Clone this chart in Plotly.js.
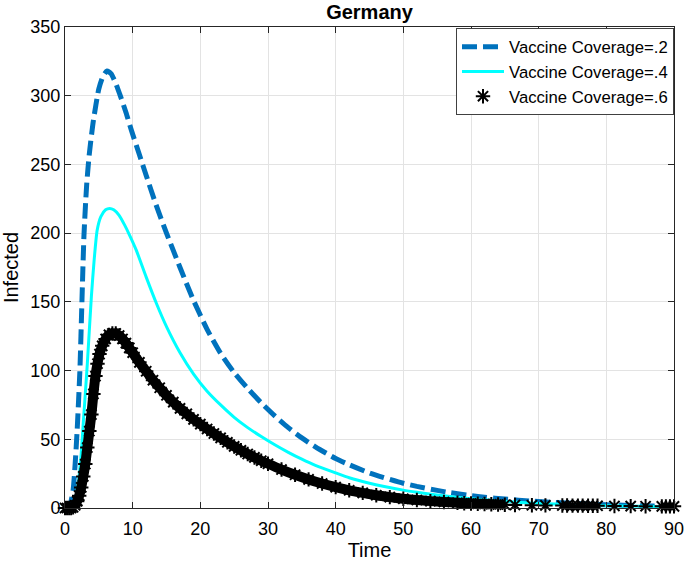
<!DOCTYPE html>
<html>
<head>
<meta charset="utf-8">
<script src="https://cdn.plot.ly/plotly-3.0.1.min.js"></script>
<style>html,body{margin:0;padding:0;background:#fff;}#chart{width:685px;height:561px;}</style>
</head>
<body>
<div id="chart"></div>
<script>
// Vaccine coverage = .2 (dashed blue)
const t1 = [0, 0.5, 0.8, 1.2, 1.5, 1.8, 2.2, 2.5, 2.8, 3.2, 3.6, 4.2, 5.0, 5.6, 6.2, 6.8, 7.5, 8.1, 9.0, 9.8, 11.0, 12.0, 13.5, 15.0, 17.0, 19.0, 21.0, 23.0, 25.0, 27.0, 29.0, 31.0, 33.0, 35.0, 37.0, 40.0, 42.0, 45.0, 47.0, 50.0, 52.0, 55.0, 57.0, 60.0, 62.0, 65.0, 69.0, 72.0, 76.0, 80.0, 85.0, 90.0];
const v1 = [0, 0, 3, 13, 32, 57, 100, 150, 198, 235, 258, 282, 305, 314, 318, 316, 309, 301, 288, 275, 257, 242, 220, 200, 175, 151, 130, 112.5, 98.5, 87, 76.5, 67, 58.5, 51, 44.5, 36, 31.5, 25.5, 22.3, 18, 15.7, 12.8, 11.1, 9.0, 7.9, 6.5, 5.0, 4.1, 3.1, 2.4, 1.7, 1.1];

// Vaccine coverage = .4 (cyan)
const t2 = [0, 1.0, 1.5, 2.0, 2.4, 2.7, 3.0, 3.3, 3.9, 4.3, 4.75, 5.3, 6.0, 6.6, 7.2, 8.0, 8.8, 9.5, 10.5, 12.0, 13.5, 15.0, 17.0, 19.0, 21.0, 23.0, 25.0, 27.0, 29.0, 31.0, 33.0, 35.0, 37.0, 40.0, 42.0, 45.0, 47.0, 50.0, 52.0, 55.0, 60.0, 65.0, 70.0, 75.0, 80.0, 85.0, 90.0];
const v2 = [0, 1, 6, 20, 40, 62, 83, 105, 154, 180, 202, 212, 217, 218, 217, 213, 206, 199, 188, 168, 149, 132, 113, 97.5, 85, 75, 66, 58.5, 52, 46, 40.5, 35.5, 31, 25.5, 22, 18, 15.8, 13, 11.5, 9.5, 6.8, 4.8, 3.3, 2.4, 1.7, 1.3, 1];

// Vaccine coverage = .6 (black asterisks)
const t3 = [0, 0.3, 0.6, 0.9, 1.2, 1.5, 1.8, 2.1, 2.4, 2.7, 3.0, 3.3, 3.6, 3.9, 4.2, 4.5, 4.8, 5.1, 5.5, 6.0, 6.5, 7.0, 7.5, 8.0, 8.5, 9.0, 9.5, 10, 11, 12, 13, 14, 15, 16, 17, 18, 19, 20, 21, 22, 23, 24, 25, 26, 27, 28, 29, 30, 32, 34, 36, 38, 40, 42, 44, 46, 48, 50, 52, 54, 56, 58, 59, 60, 61, 62, 63, 64, 65, 66.5, 69, 71, 73.5, 74.2, 75, 75.8, 76.5, 77.3, 78, 78.7, 81.2, 83.6, 85.8, 88.2, 88.8, 89.4, 90];
const v3 = [0, 0, 0, 0, 0.5, 2, 5, 9, 15, 23, 32, 44, 56, 68, 83, 96, 105, 112, 118, 123, 126, 127, 127, 125.5, 123, 120, 116.5, 113, 106, 99.5, 93, 87.5, 82, 77, 72.5, 68.5, 64.5, 61, 57.5, 54.2, 51, 47.8, 44.8, 42, 39.3, 36.8, 34.4, 32.2, 28, 24.2, 20.8, 17.8, 15.2, 12.9, 11, 9.3, 7.9, 6.7, 5.8, 5, 4.4, 3.8, 3.5, 3.3, 3.1, 2.9, 2.7, 2.5, 2.4, 2.2, 2, 1.9, 1.8, 1.8, 1.7, 1.7, 1.7, 1.6, 1.6, 1.6, 1.5, 1.4, 1.3, 1.2, 1.2, 1.2, 1.2];

const names = ['Vaccine Coverage=.2', 'Vaccine Coverage=.4', 'Vaccine Coverage=.6'];

// dense band part of the asterisk series
const bandT = t3.filter(t => t <= 65);
const bandV = v3.slice(0, bandT.length);

const traces = [
  {x: t1, y: v1, type: 'scatter', mode: 'lines', name: names[0],
   line: {color: '#0072BD', width: 5, dash: '15px,6px', shape: 'spline', smoothing: 0.6}},
  {x: t2, y: v2, type: 'scatter', mode: 'lines', name: names[1],
   line: {color: '#00FFFF', width: 3, shape: 'spline', smoothing: 0.6}},
  {x: bandT, y: bandV, type: 'scatter', mode: 'lines', showlegend: false, hoverinfo: 'skip',
   line: {color: '#000000', width: 10, shape: 'spline', smoothing: 0.6}},
  {x: t3, y: v3, type: 'scatter', mode: 'markers', name: names[2], cliponaxis: false,
   marker: {symbol: 'asterisk-open', size: 12, color: '#000000', line: {color: '#000000', width: 2}}}
];

const axisCommon = {
  ticks: 'inside', ticklen: 6, tickwidth: 1, tickcolor: '#262626',
  showline: true, linecolor: '#262626', linewidth: 1, mirror: 'ticks',
  showgrid: true, gridcolor: '#e3e3e3', gridwidth: 1, zeroline: false,
  ticklabeloverflow: 'allow',
  tickfont: {family: 'Liberation Sans, Arial, sans-serif', size: 18, color: '#000000'}
};

const layout = {
  width: 685, height: 561,
  margin: {l: 65, r: 11, t: 27, b: 53},
  paper_bgcolor: '#ffffff', plot_bgcolor: '#ffffff',
  font: {family: 'Liberation Sans, Arial, sans-serif', color: '#000000'},
  title: {text: '<b>Germany</b>', font: {size: 20, color: '#000000'},
          x: 0.5, xref: 'paper', y: 1 - 12 / 561, yref: 'container', yanchor: 'middle'},
  xaxis: Object.assign({}, axisCommon, {
    range: [0, 90], dtick: 10, tick0: 0, ticklabelstandoff: 4,
    title: {text: 'Time', font: {size: 20}, standoff: 8}
  }),
  yaxis: Object.assign({}, axisCommon, {
    range: [0, 350], dtick: 50, tick0: 0,
    title: {text: 'Infected', font: {size: 20}, standoff: 12}
  }),
  legend: {
    x: 1, xanchor: 'right', y: 0.997, yanchor: 'top',
    bgcolor: '#ffffff', bordercolor: '#404040', borderwidth: 1,
    font: {size: 16.7, color: '#000000'}, tracegroupgap: 0, itemwidth: 42
  },
  showlegend: true
};

Plotly.newPlot('chart', traces, layout, {staticPlot: true, displayModeBar: false});
</script>
</body>
</html>
